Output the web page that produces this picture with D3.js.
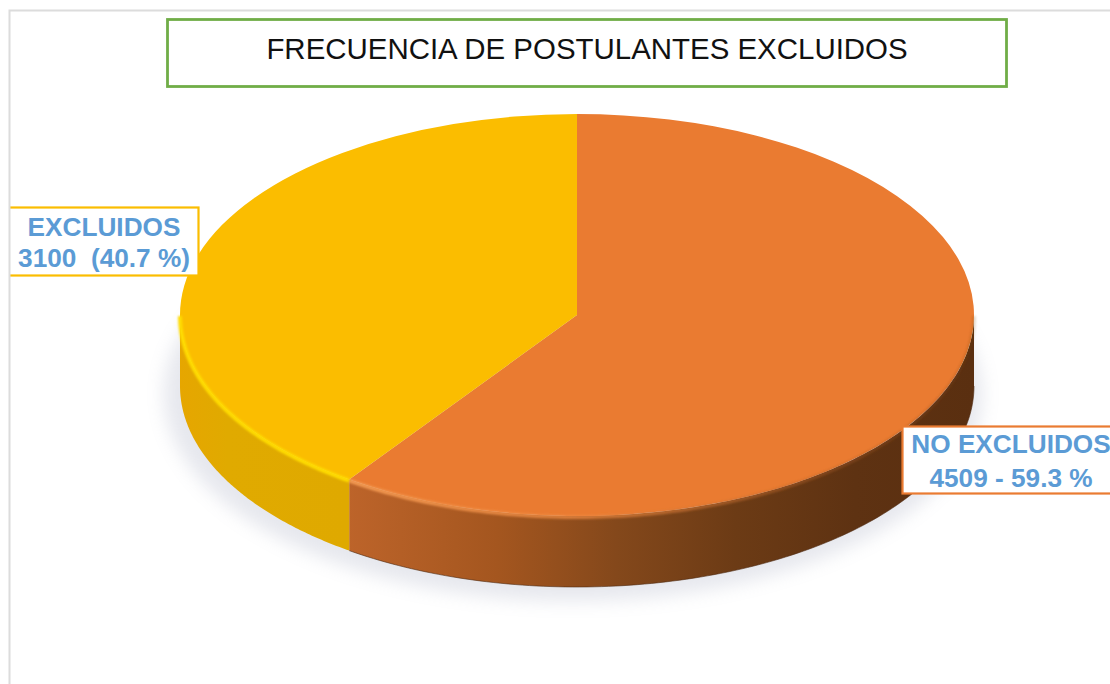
<!DOCTYPE html>
<html>
<head>
<meta charset="utf-8">
<script src="https://cdn.jsdelivr.net/npm/d3@7"></script>
<style>
  html, body { margin: 0; padding: 0; background: #fff; }
  svg { display: block; }
  text { font-family: "Liberation Sans", Arial, sans-serif; }
</style>
</head>
<body>
<svg id="chart" width="1110" height="684"></svg>
<script>
// Applicants excluded vs. not excluded
const chartTitle = "FRECUENCIA DE POSTULANTES EXCLUIDOS";
const categories = ["NO EXCLUIDOS", "EXCLUIDOS"];
const counts = [4509, 3100];
const valueLabels = ["4509 - 59.3 %", "3100  (40.7 %)"];
const topColors = ["#ea7b31", "#fbbd00"];
const rimColors = ["#f39a52", "#ffdc05"];

const W = 1110, H = 684;
const cx = 577, cy = 315, rx = 397, ry = 201, depth = 71;
const foreshorten = 0.032; // angular skew of the tilted disc

const svg = d3.select("#chart").attr("viewBox", [0, 0, W, H]);
const defs = svg.append("defs");

defs.append("filter").attr("id", "shadowBlur")
  .attr("x", "-10%").attr("y", "-10%").attr("width", "120%").attr("height", "120%")
  .append("feGaussianBlur").attr("stdDeviation", 9);
defs.append("filter").attr("id", "rimBlur")
  .attr("filterUnits", "userSpaceOnUse")
  .attr("x", 0).attr("y", 0).attr("width", W).attr("height", H)
  .append("feGaussianBlur").attr("stdDeviation", 1.3);

// Horizontal shading of the side wall, one gradient per slice
function wallGradient(id, stops) {
  const g = defs.append("linearGradient").attr("id", id)
    .attr("gradientUnits", "userSpaceOnUse")
    .attr("x1", cx - rx).attr("x2", cx + rx).attr("y1", 0).attr("y2", 0);
  stops.forEach(([o, c]) => g.append("stop").attr("offset", o).attr("stop-color", c));
}
wallGradient("wall0", [[0.21, "#bd642a"], [0.4, "#a4561f"], [0.55, "#84481b"], [0.7, "#6c3b15"], [0.85, "#5e3212"], [1, "#5a2f10"]]);
wallGradient("wall1", [[0, "#e6a600"], [0.06, "#e0aa00"], [0.21, "#dfa900"]]);

const rimFade = defs.append("linearGradient").attr("id", "rimFade")
  .attr("gradientUnits", "userSpaceOnUse")
  .attr("x1", cx - rx).attr("x2", cx + rx).attr("y1", 0).attr("y2", 0);
[[0.2, "#f39a52", 1], [0.5, "#ee8a42", 0.75], [0.8, "#b5622a", 0.4], [1, "#7a4219", 0.2]].forEach(([o, c, a]) =>
  rimFade.append("stop").attr("offset", o).attr("stop-color", c).attr("stop-opacity", a));

// Slice geometry: pie angles are skewed slightly for the viewing tilt
const skew = a => a + foreshorten * Math.sin(2 * a);
const slices = d3.pie().sort(null).value(d => d)(counts)
  .map(s => ({ ...s, startAngle: skew(s.startAngle), endAngle: skew(s.endAngle) }));
const arc = d3.arc().innerRadius(0).outerRadius(rx);
const xAt = a => cx + rx * Math.sin(a);
const yAt = a => cy - ry * Math.cos(a);

// Front-facing part of the rim, sampled between two pie angles
function rimPoints(a0, a1) {
  const lo = Math.max(a0, Math.PI / 2), hi = Math.min(a1, Math.PI * 1.5);
  return lo < hi ? d3.range(0, 121).map(i => lo + (hi - lo) * i / 120) : [];
}
const linePath = d3.line().x(d => d[0]).y(d => d[1]);

// Soft shadow under the disc
svg.append("ellipse")
  .attr("cx", cx - 4).attr("cy", cy + depth + 8)
  .attr("rx", rx + 12).attr("ry", ry + 6)
  .attr("fill", "#8f95b0").attr("opacity", 0.22)
  .attr("filter", "url(#shadowBlur)");

// Side wall, with a thin dark line along its lower edge
slices.forEach((s, i) => {
  const a = rimPoints(s.startAngle, s.endAngle);
  const upper = a.map(t => [xAt(t), yAt(t)]);
  const lower = a.slice().reverse().map(t => [xAt(t), yAt(t) + depth]);
  svg.append("path")
    .attr("d", linePath(upper.concat(lower)) + "Z")
    .attr("fill", `url(#wall${i})`);
  if (i === 0) {
    svg.append("path")
      .attr("d", linePath(lower))
      .attr("fill", "none").attr("stroke", "#4f2a10").attr("stroke-width", 1).attr("opacity", 0.6);
  }
});

// Top face
const face = svg.append("g")
  .attr("transform", `translate(${cx},${cy}) scale(1,${ry / rx})`);
face.selectAll("path").data(slices).join("path")
  .attr("d", arc)
  .attr("fill", (d, i) => topColors[i]);

// Bevel highlight around the front rim
slices.forEach((s, i) => {
  const a = rimPoints(s.startAngle, s.endAngle);
  svg.append("path")
    .attr("d", linePath(a.map(t => [xAt(t), yAt(t) + 1])))
    .attr("fill", "none")
    .attr("stroke", i === 0 ? "url(#rimFade)" : rimColors[i])
    .attr("stroke-width", 4)
    .attr("filter", "url(#rimBlur)");
});

// Title box
svg.append("rect")
  .attr("x", 167.5).attr("y", 19.5).attr("width", 839).attr("height", 67)
  .attr("fill", "#fff").attr("stroke", "#70ad47").attr("stroke-width", 2.8);
svg.append("text")
  .attr("x", 587).attr("y", 58.5).attr("text-anchor", "middle")
  .attr("font-size", 29.45).attr("fill", "#111")
  .text(chartTitle);

// Data labels
const labelBoxes = [
  { x: 902.5, y: 426.5, w: 230, h: 67, tx: 1011, y1: 453, y2: 487 },
  { x: 2, y: 207.5, w: 196.5, h: 68, tx: 104, y1: 236, y2: 267 }
];
labelBoxes.forEach((b, i) => {
  svg.append("rect")
    .attr("x", b.x).attr("y", b.y).attr("width", b.w).attr("height", b.h)
    .attr("fill", "#fff").attr("stroke", topColors[i]).attr("stroke-width", 2.2);
  [[categories[i], b.y1], [valueLabels[i], b.y2]].forEach(([t, y]) => {
    svg.append("text")
      .attr("x", b.tx).attr("y", y).attr("text-anchor", "middle")
      .attr("font-size", 26.2).attr("font-weight", "bold").attr("fill", "#5b9bd5")
      .style("white-space", "pre")
      .text(t);
  });
});

// Chart frame, with the white margin outside it
svg.append("rect").attr("width", 9).attr("height", H).attr("fill", "#fff");
svg.append("path")
  .attr("d", `M9.5 ${H}V10.5H${W}`)
  .attr("fill", "none").attr("stroke", "#dcdcdc").attr("stroke-width", 2);
</script>
</body>
</html>
